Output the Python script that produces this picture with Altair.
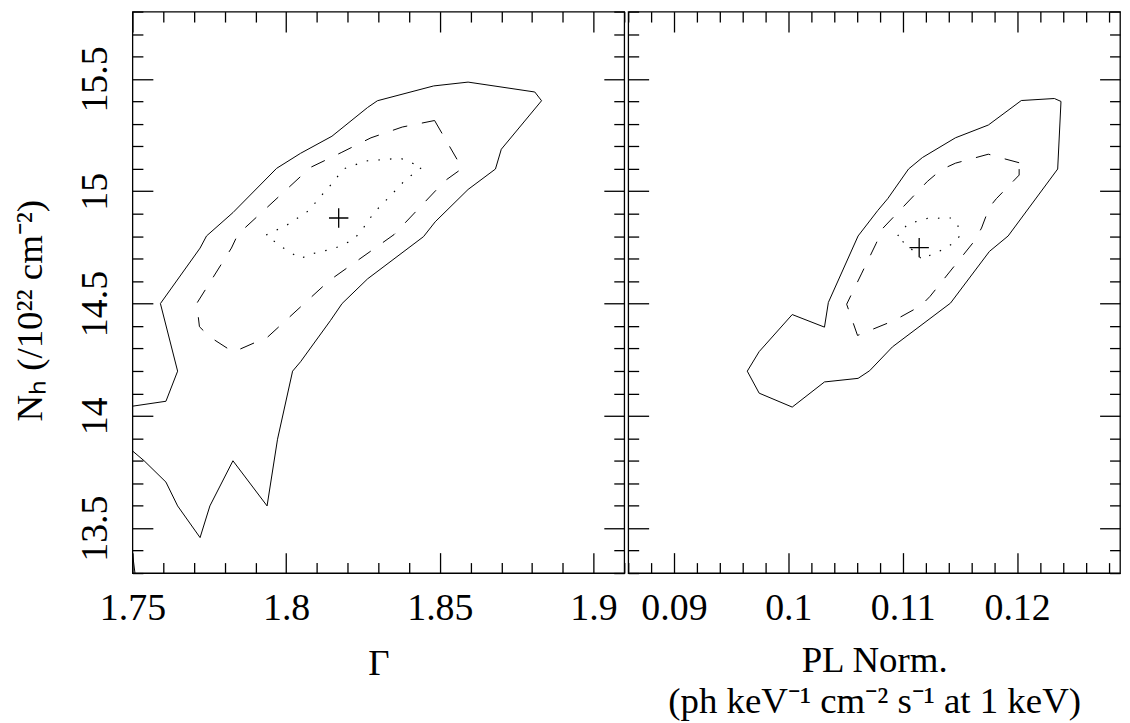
import altair as alt
import pandas as pd

# ---------------- data ----------------
# Left panel: photon index Gamma vs N_H
gam_solid_x = [1.7455, 1.75, 1.7609, 1.7647, 1.7591, 1.7720, 1.7741, 1.7827, 1.7969, 1.8047,
               1.8149, 1.8265, 1.8297, 1.8480, 1.8592, 1.8809, 1.8831, 1.8700, 1.8681, 1.8592,
               1.8485, 1.8447, 1.8265, 1.8182, 1.8144, 1.8047, 1.8021, 1.7972, 1.7938, 1.7827,
               1.7752, 1.7720, 1.7647, 1.7609, 1.7538, 1.75, 1.7455, 1.7492, 1.75, 1.7510]
gam_solid_y = [14.035, 14.043, 14.065, 14.199, 14.500, 14.747, 14.801, 14.905, 15.102, 15.169,
               15.245, 15.373, 15.403, 15.469, 15.486, 15.442, 15.403, 15.187, 15.099, 15.008,
               14.864, 14.798, 14.610, 14.500, 14.424, 14.241, 14.199, 13.896, 13.599, 13.800,
               13.599, 13.458, 13.599, 13.705, 13.800, 13.844, 13.899, 13.48, 13.389, 13.28]

gam_dash_x = [1.8483, 1.8573, 1.8517, 1.8351, 1.8141, 1.7940, 1.7828, 1.7751, 1.7718, 1.7709,
              1.7822, 1.7843, 1.8079, 1.8179, 1.8276, 1.8378, 1.8483]
gam_dash_y = [15.315, 15.102, 15.047, 14.807, 14.603, 14.351, 14.284, 14.352, 14.397, 14.500,
              14.747, 14.808, 15.106, 15.172, 15.238, 15.286, 15.315]

gam_dot_x = [1.7935, 1.8002, 1.8072, 1.8120, 1.8153, 1.8186, 1.8260, 1.8372, 1.8405, 1.8442,
             1.8389, 1.8340, 1.8286, 1.8253, 1.8222, 1.8185, 1.8153, 1.8079, 1.8047, 1.7983, 1.7935]
gam_dot_y = [14.805, 14.849, 14.912, 14.989, 15.040, 15.099, 15.135, 15.147, 15.128, 15.107,
             15.052, 14.981, 14.905, 14.840, 14.788, 14.761, 14.744, 14.720, 14.700, 14.754, 14.805]

gam_best_x = [1.8171]
gam_best_y = [14.881]

# Right panel: PL normalisation vs N_H
norm_solid_x = [0.12037, 0.12326, 0.12384, 0.12355, 0.11922, 0.11758, 0.11418, 0.1091, 0.10711,
                0.1061, 0.10316, 0.10034, 0.09745, 0.09641, 0.09745, 0.10034, 0.10316, 0.1035,
                0.1061, 0.10783, 0.10869, 0.11051, 0.11172, 0.11461, 0.11749, 0.12037]
norm_solid_y = [15.404, 15.413, 15.400, 15.099, 14.801, 14.732, 14.502, 14.307, 14.201,
                14.167, 14.151, 14.039, 14.101, 14.199, 14.286, 14.451, 14.395, 14.505,
                14.801, 14.915, 14.967, 15.099, 15.150, 15.238, 15.295, 15.404]

norm_dash_x = [0.12018, 0.11879, 0.11749, 0.11461, 0.11337, 0.11216, 0.10826, 0.10769, 0.10639,
               0.10510, 0.10605, 0.10927, 0.11158, 0.11239, 0.1162, 0.11689, 0.11758, 0.11819,
               0.12018, 0.12018]
norm_dash_y = [15.127, 15.146, 15.165, 15.125, 15.096, 15.044, 14.835, 14.769, 14.632,
               14.497, 14.358, 14.425, 14.490, 14.532, 14.774, 14.836, 14.929, 14.967,
               15.072, 15.127]

norm_dot_x = [0.10956, 0.11043, 0.11216, 0.11423, 0.11481, 0.11505, 0.11447, 0.11345, 0.11245,
              0.11172, 0.111, 0.11014, 0.10956]
norm_dot_y = [14.801, 14.854, 14.879, 14.881, 14.849, 14.805, 14.770, 14.739, 14.717,
              14.695, 14.732, 14.769, 14.801]

norm_best_x = [0.11144]
norm_best_y = [14.749]

# axes
gam_domain = [1.75, 1.91]
norm_domain = [0.086, 0.129]
nh_domain = [13.3, 15.8]
gam_major = [1.75, 1.8, 1.85, 1.9]
norm_major = [0.09, 0.1, 0.11, 0.12]
nh_major = [13.5, 14, 14.5, 15, 15.5]
gam_ticks = [round(1.75 + 0.01 * i, 2) for i in range(17)]
norm_ticks = [round(0.086 + 0.002 * i, 3) for i in range(22)]
nh_ticks = [round(13.3 + 0.1 * i, 1) for i in range(26)]

x_title_left = "\u0393"
x_title_right = ["PL Norm.", "(ph keV\u207b\u00b9 cm\u207b\u00b2 s\u207b\u00b9 at 1 keV)"]
y_title = "N\u2095 (/10\u00b2\u00b2 cm\u207b\u00b2)"

FONT = "Liberation Serif"
LABEL_SIZE = 38
TITLE_SIZE = 37
W, H = 494, 564
MAJ_LEN, MIN_LEN = 20.5, 10.5


def frame(xs, ys):
    return pd.DataFrame({"x": xs, "y": ys, "i": list(range(len(xs)))})


def tick_size(major):
    test = "indexof([" + ",".join(repr(v) for v in major) + "], datum.value) >= 0"
    return alt.ExprRef(expr=test + f" ? -{MAJ_LEN} : -{MIN_LEN}")


def tick_axis(orient, values, major):
    return alt.Axis(orient=orient, values=values, tickSize=tick_size(major), labels=False,
                    title=None, domain=False, grid=False, tickColor="black", tickWidth=1.3)


def panel(solid, dash, dot, best, xdom, xvals, xmajor, xtitle, title_y, left_labels):
    xs = alt.Scale(domain=xdom, nice=False, zero=False)
    ys = alt.Scale(domain=nh_domain, nice=False, zero=False)

    x_label_axis = alt.Axis(orient="bottom", values=xmajor, ticks=False, format="~g",
                            labelFont=FONT, labelFontSize=LABEL_SIZE, labelColor="black",
                            labelPadding=47, labelBaseline="alphabetic", labelAlign="center",
                            labelFlush=False, labelOverlap=False, labelBound=False,
                            domain=False, grid=False,
                            title=xtitle, titleFont=FONT, titleFontSize=TITLE_SIZE,
                            titleFontWeight="normal", titleColor="black",
                            titleBaseline="alphabetic", titleY=title_y, titleLineHeight=41)
    if left_labels:
        y_label_axis = alt.Axis(orient="left", values=nh_major, ticks=False, format="~g",
                                labelFont=FONT, labelFontSize=LABEL_SIZE, labelColor="black",
                                labelPadding=26, labelAngle=-90, labelAlign="center",
                                labelBaseline="alphabetic", labelFlush=False, labelOverlap=False,
                                labelBound=False, domain=False, grid=False,
                                title=y_title, titleFont=FONT, titleFontSize=TITLE_SIZE,
                                titleFontWeight="normal", titleColor="black", titleAngle=-90,
                                titleAlign="center", titleBaseline="middle",
                                titleX=-102, titleY=300)
    else:
        y_label_axis = None

    base_solid = alt.Chart(frame(*solid)).mark_line(color="black", strokeWidth=1, clip=True).encode(
        x=alt.X("x:Q", scale=xs, axis=tick_axis("bottom", xvals, xmajor)),
        y=alt.Y("y:Q", scale=ys, axis=tick_axis("left", nh_ticks, nh_major)),
        order=alt.Order("i:Q"),
    )
    base_dash = alt.Chart(frame(*dash)).mark_line(color="black", strokeWidth=1, clip=True,
                                                  strokeDash=[15, 15]).encode(
        x=alt.X("x:Q", scale=xs, axis=tick_axis("top", xvals, xmajor)),
        y=alt.Y("y:Q", scale=ys, axis=tick_axis("right", nh_ticks, nh_major)),
        order=alt.Order("i:Q"),
    )
    base_dot = alt.Chart(frame(*dot)).mark_line(color="black", strokeWidth=1.2, clip=True,
                                                strokeDash=[1.5, 10.2]).encode(
        x=alt.X("x:Q", scale=xs, axis=x_label_axis),
        y=alt.Y("y:Q", scale=ys, axis=y_label_axis),
        order=alt.Order("i:Q"),
    )
    base_best = alt.Chart(frame(*best)).mark_point(shape="M-1,0H1M0,-1V1", size=380, filled=False,
                                                   color="black", strokeWidth=1.3, opacity=1).encode(
        x=alt.X("x:Q", scale=xs, axis=None),
        y=alt.Y("y:Q", scale=ys, axis=None),
    )
    return alt.layer(base_solid, base_dash, base_dot, base_best).resolve_axis(
        x="independent", y="independent").properties(width=W, height=H)


left_panel = panel((gam_solid_x, gam_solid_y), (gam_dash_x, gam_dash_y), (gam_dot_x, gam_dot_y),
                   (gam_best_x, gam_best_y), gam_domain, gam_ticks, gam_major, x_title_left,
                   102, True)
right_panel = panel((norm_solid_x, norm_solid_y), (norm_dash_x, norm_dash_y),
                    (norm_dot_x, norm_dot_y), (norm_best_x, norm_best_y), norm_domain,
                    norm_ticks, norm_major, x_title_right, 99, False)

chart = alt.hconcat(left_panel, right_panel, spacing=0).properties(
    padding={"left": 3, "top": 0, "right": 0, "bottom": 0},
    background="white",
).configure_view(stroke="black", strokeWidth=1.3)

chart.save("out.html", embed_options={"renderer": "svg", "actions": False})
